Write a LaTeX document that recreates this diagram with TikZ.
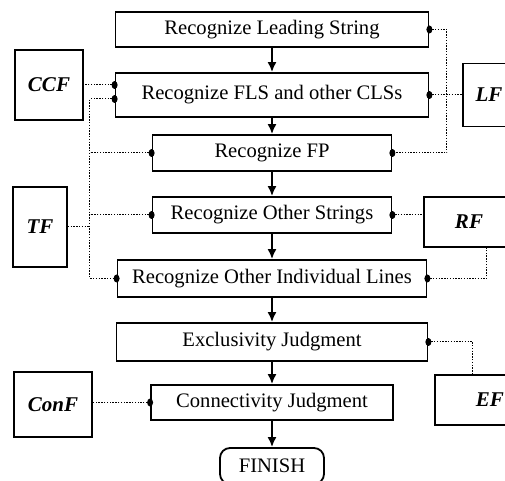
\documentclass[tikz,border=0pt]{standalone}
\usepackage{fontspec}
\setmainfont{Liberation Serif}
\usetikzlibrary{arrows.meta}

\begin{document}
\begin{tikzpicture}[x=0.5pt,y=-0.5pt,
    stage/.style={draw,line width=0.9pt,inner sep=0pt,font=\fontsize{10.3}{12}\selectfont},
    feat/.style={draw,line width=0.9pt,inner sep=0pt,font=\fontsize{10.5}{12}\selectfont\bfseries\itshape},
    link/.style={line width=0.5pt,dash pattern=on 0.7pt off 0.7pt},
    flow/.style={line width=0.9pt,-{Latex[length=5pt,width=4.5pt]}}]
  \useasboundingbox (0,0) rectangle (505,481);
  \clip (0,0) rectangle (505,481);
  % recognition stages
  \node[stage,minimum width=156.5pt,minimum height=17.5pt] (ls) at (272,29.5) {Recognize Leading String};
  \node[stage,minimum width=156.5pt,minimum height=22pt] (fls) at (272,95) {Recognize FLS and other CLSs};
  \node[stage,minimum width=119.5pt,minimum height=18pt] (fp) at (272,153) {Recognize FP};
  \node[stage,minimum width=119.5pt,minimum height=18pt] (os) at (272,215) {Recognize Other Strings};
  \node[stage,minimum width=154.5pt,minimum height=18.5pt] (oil) at (272,278.5) {Recognize Other Individual Lines};
  \node[stage,minimum width=155.5pt,minimum height=19pt] (ej) at (272,342) {Exclusivity Judgment};
  \node[stage,minimum width=121pt,minimum height=17.5pt] (cj) at (272,402.5) {Connectivity Judgment};
  \node[stage,rounded corners=5pt,minimum width=52pt,minimum height=18pt] (fin) at (272,466) {FINISH};
  % flow arrows
  \draw[flow] (ls) -- (fls);
  \draw[flow] (fls) -- (fp);
  \draw[flow] (fp) -- (os);
  \draw[flow] (os) -- (oil);
  \draw[flow] (oil) -- (ej);
  \draw[flow] (ej) -- (cj);
  \draw[flow] (cj) -- (fin);
  % feature boxes
  \node[feat,minimum width=34pt,minimum height=35pt] (ccf) at (49,85) {CCF};
  \node[feat,minimum width=26pt,minimum height=31.5pt] (lf) at (489,95) {LF};
  \node[feat,minimum width=27pt,minimum height=40pt] (tf) at (40,227) {TF};
  \node[feat,minimum width=45pt,minimum height=25pt] (rf) at (469,222) {RF};
  \node[feat,minimum width=39pt,minimum height=32.5pt] (conf) at (53,404.5) {ConF};
  \node[feat,minimum width=55pt,minimum height=25pt] (ef) at (490,400) {EF};
  % dotted links
  \coordinate (ccfdot) at ([yshift=5pt]fls.west);
  \coordinate (tfdot) at ([yshift=-2pt]fls.west);
  \coordinate (tfbus) at (90,0);
  \coordinate (lfbus) at (447,0);
  \draw[link] (ccfdot) -- (ccfdot -| ccf.east);
  \draw[link] (ls.east) -| (lfbus |- fp.east) -- (fp.east);
  \draw[link] (fls.east) -- (fls.east -| lf.west);
  \draw[link] (tfdot) -| (tfbus |- oil.west) -- (oil.west);
  \draw[link] (fp.west) -- (fp.west -| tfbus);
  \draw[link] (os.west) -- (os.west -| tfbus);
  \draw[link] (tf.east) -- (tf.east -| tfbus);
  \draw[link] (os.east) -- (os.east -| rf.west);
  \draw[link] (oil.east) -| ([xshift=9pt]rf.south);
  \draw[link] (ej.east) -| ([xshift=-8.5pt]ef.north);
  \draw[link] (cj.west) -- (cj.west -| conf.east);
  % link dots
  \foreach \p in {ls.east,fls.east,ccfdot,tfdot,fp.west,fp.east,os.west,os.east,oil.west,oil.east,ej.east,cj.west}
    \fill (\p) ellipse (1.5pt and 2pt);
\end{tikzpicture}
\end{document}
